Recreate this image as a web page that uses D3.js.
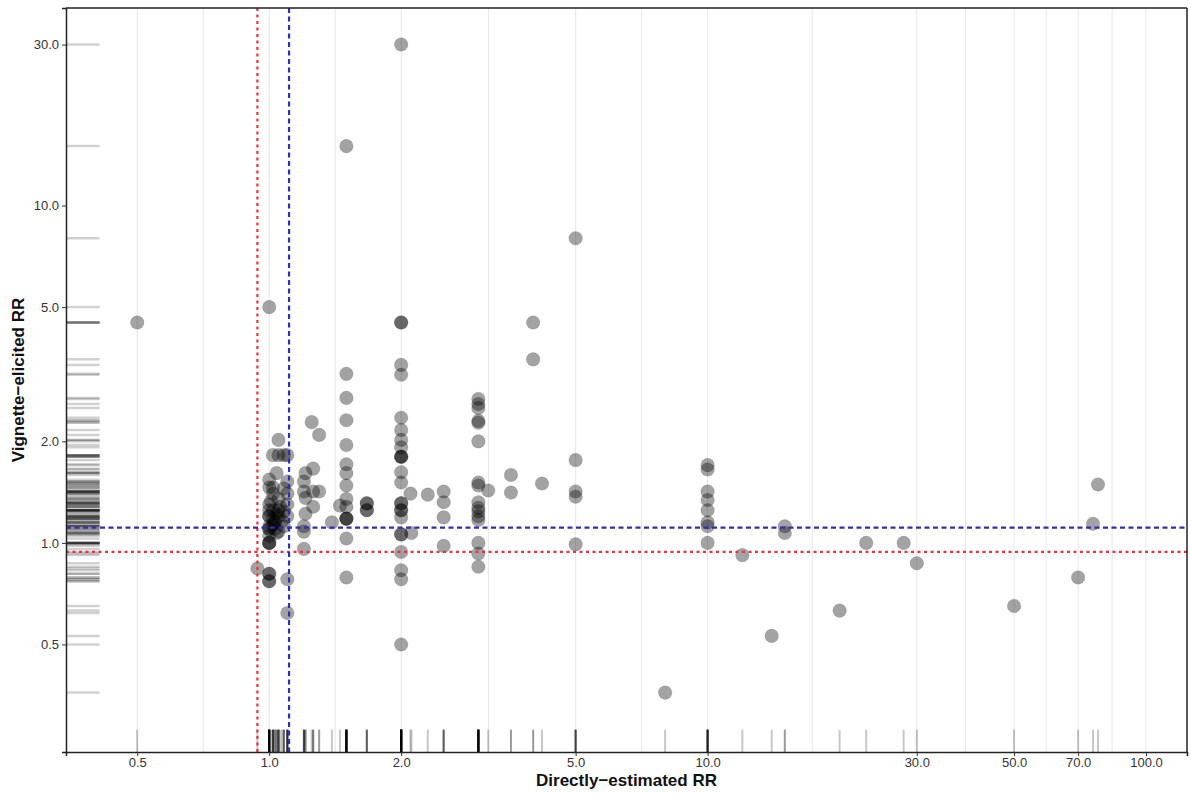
<!DOCTYPE html>
<html>
<head>
<meta charset="utf-8">
<script src="https://cdn.jsdelivr.net/npm/d3@7"></script>
<style>
  body { margin: 0; background: #fff; }
  text { font-family: "Liberation Sans", Arial, sans-serif; }
  .tick text { fill: #333; font-size: 13px; }
  .axis-title { font-size: 17px; font-weight: bold; fill: #111; }
</style>
</head>
<body>
<svg width="1191" height="793"></svg>
<script>
// directly-estimated RR (x) and vignette-elicited RR (y), one entry per respondent
var directRR = [
  0.5, 1.0, 2.0, 1.5, 5.0, 4.0, 4.0, 2.0, 2.0, 8.0,
  1.05, 1.02, 1.05, 1.08, 1.1, 1.25, 1.3,
  1.04, 1.0, 1.0, 1.02, 1.1, 1.21, 1.26, 1.2,
  1.2, 1.26, 1.3, 1.21, 1.26, 1.21, 1.2, 1.2,
  1.0, 1.02, 1.0, 1.0, 1.03, 1.03, 1.0, 1.0, 1.05, 1.08, 1.1, 1.1, 1.05, 1.02, 1.08, 1.1, 1.05, 1.0,
  1.0, 1.02, 1.04, 1.06, 1.0, 1.03, 1.07, 1.01, 1.04, 1.08, 1.02, 1.05,
  1.0, 1.0, 1.0, 1.2, 0.94, 1.0, 1.0, 1.0, 1.0, 1.1, 1.1,
  1.5, 1.5, 1.5, 1.5, 1.5, 1.5, 1.5, 1.5, 1.5, 1.5, 1.5, 1.5, 1.5, 1.5, 1.45, 1.39, 1.67, 1.67, 1.67, 1.67,
  2, 2, 2, 2, 2, 2, 2, 2, 2, 2, 2, 2, 2, 2, 2, 2, 2, 2, 2, 2, 2, 2, 2.1, 2.11,
  2.3, 2.5, 2.5, 2.5, 2.5,
  3, 3, 3, 3, 3, 3, 3, 3, 3, 3, 3, 3, 3, 3, 3, 3,
  3.16, 3.56, 3.56, 4.19,
  5, 5, 5, 5,
  10, 10, 10, 10, 10, 10, 10, 10,
  12, 15, 15, 14, 20, 23, 28, 30, 50, 70, 75.7, 77.7
];
var vignetteRR = [
  4.5, 5.0, 30, 15, 8.0, 4.5, 3.5, 4.5, 4.5, 0.36,
  2.02, 1.82, 1.82, 1.82, 1.82, 2.28, 2.09,
  1.61, 1.54, 1.46, 1.46, 1.52, 1.61, 1.66, 1.52,
  1.42, 1.42, 1.42, 1.36, 1.28, 1.22, 1.12, 1.08,
  1.3, 1.25, 1.2, 1.2, 1.15, 1.15, 1.1, 1.1, 1.08, 1.12, 1.2, 1.3, 1.35, 1.4, 1.45, 1.4, 1.25, 1.05,
  1.12, 1.18, 1.22, 1.28, 1.25, 1.1, 1.16, 1.33, 1.07, 1.24, 1.13, 1.2,
  1.0, 1.0, 1.0, 0.96, 0.84, 0.81, 0.81, 0.77, 0.77, 0.78, 0.62,
  3.17, 2.69, 2.31, 1.95, 1.71, 1.61, 1.48, 1.35, 1.28, 1.18, 1.18, 1.18, 1.03, 0.79, 1.29, 1.15, 1.31, 1.31, 1.25, 1.25,
  3.37, 3.15, 2.35, 2.16, 2.02, 1.92, 1.8, 1.8, 1.8, 1.62, 1.51, 1.31, 1.31, 1.25, 1.25, 1.19, 1.06, 1.06, 0.94, 0.83, 0.78, 0.5, 1.4, 1.07,
  1.39, 1.42, 1.32, 1.19, 0.98,
  2.67, 2.58, 2.51, 2.3, 2.27, 2.0, 1.51, 1.48, 1.32, 1.27, 1.24, 1.2, 1.17, 1.0, 0.93, 0.85,
  1.43, 1.59, 1.41, 1.5,
  1.76, 1.42, 1.37, 0.99,
  1.7, 1.65, 1.42, 1.34, 1.25, 1.15, 1.12, 1.0,
  0.92, 1.12, 1.07, 0.53, 0.63, 1.0, 1.0, 0.87, 0.65, 0.79, 1.14, 1.49
];

var xTicks = [0.5, 1, 2, 5, 10, 30, 50, 70, 100];
var yTicks = [0.5, 1, 2, 5, 10, 30];

// reference lines
var redRef = 0.94;
var blueRef = 1.11;

var svg = d3.select('svg');
var svgWidth = +svg.attr('width');
var svgHeight = +svg.attr('height');
var padding = {t: 8, r: 4, b: 41, l: 66};
var chartWidth = svgWidth - padding.l - padding.r;
var chartHeight = svgHeight - padding.t - padding.b;

var chartG = svg.append('g')
    .attr('transform', 'translate(' + [padding.l, padding.t] + ')');

var xScale = d3.scaleLog().domain([0.344, 124]).range([0, chartWidth]);
var yScale = d3.scaleLog().domain([0.24, 38.5]).range([chartHeight, 0]);

var points = directRR.map(function(d, i) {
    return {x: d, y: vignetteRR[i]};
});

// gridlines: major at ticks, minor at geometric midpoints
var minor = [];
for (var i = 0; i < xTicks.length - 1; i++) {
    minor.push(Math.sqrt(xTicks[i] * xTicks[i + 1]));
}
chartG.append('g').selectAll('line')
    .data(xTicks.concat(minor))
    .enter().append('line')
    .attr('x1', function(d) { return xScale(d); })
    .attr('x2', function(d) { return xScale(d); })
    .attr('y1', 0)
    .attr('y2', chartHeight)
    .style('stroke', '#e6e6e6')
    .style('stroke-width', 1);

// rugs
var rugX = chartHeight * 0.03;
var rugY = chartWidth * 0.03;
chartG.append('g').selectAll('line')
    .data(points)
    .enter().append('line')
    .attr('x1', function(d) { return xScale(d.x); })
    .attr('x2', function(d) { return xScale(d.x); })
    .attr('y1', chartHeight)
    .attr('y2', chartHeight - rugX)
    .style('stroke', '#000')
    .style('stroke-opacity', 0.22)
    .style('stroke-width', 2);

chartG.append('g').selectAll('line')
    .data(points)
    .enter().append('line')
    .attr('y1', function(d) { return yScale(d.y); })
    .attr('y2', function(d) { return yScale(d.y); })
    .attr('x1', 0)
    .attr('x2', rugY)
    .style('stroke', '#000')
    .style('stroke-opacity', 0.18)
    .style('stroke-width', 2.5);

// points
chartG.append('g').selectAll('circle')
    .data(points)
    .enter().append('circle')
    .attr('cx', function(d) { return xScale(d.x); })
    .attr('cy', function(d) { return yScale(d.y); })
    .attr('r', 6.8)
    .style('fill', '#000')
    .style('fill-opacity', 0.36)
    .style('stroke', '#000')
    .style('stroke-opacity', 0.1);

// reference lines
function refLines(v, color, dash) {
    chartG.append('line')
        .attr('x1', xScale(v)).attr('x2', xScale(v))
        .attr('y1', 0).attr('y2', chartHeight)
        .style('stroke', color).style('stroke-width', 2.2)
        .style('stroke-dasharray', dash);
    chartG.append('line')
        .attr('x1', 0).attr('x2', chartWidth)
        .attr('y1', yScale(v)).attr('y2', yScale(v))
        .style('stroke', color).style('stroke-width', 2.2)
        .style('stroke-dasharray', dash);
}
refLines(redRef, '#e8323f', '3,3.5');
refLines(blueRef, '#2f2fb0', '5,3.5');

// axes
var xAxis = chartG.append('g')
    .attr('transform', 'translate(' + [0, chartHeight] + ')')
    .call(d3.axisBottom(xScale).tickValues(xTicks).tickFormat(d3.format('.1f')).tickSize(4).tickPadding(2));
var yAxis = chartG.append('g')
    .call(d3.axisLeft(yScale).tickValues(yTicks).tickFormat(d3.format('.1f')).tickSize(4).tickPadding(3));
[xAxis, yAxis].forEach(function(a) {
    a.select('.domain').style('stroke', '#222').style('stroke-width', 1.5);
    a.selectAll('.tick line').style('stroke', '#333');
});

// top and right frame
chartG.append('line')
    .attr('x1', 0).attr('x2', chartWidth).attr('y1', 0).attr('y2', 0)
    .style('stroke', '#222').style('stroke-width', 1.5);
chartG.append('line')
    .attr('x1', chartWidth).attr('x2', chartWidth).attr('y1', 0).attr('y2', chartHeight)
    .style('stroke', '#222').style('stroke-width', 1.5);

// titles
svg.append('text')
    .attr('class', 'axis-title')
    .attr('x', padding.l + chartWidth / 2)
    .attr('y', 786)
    .attr('text-anchor', 'middle')
    .text('Directly\u2212estimated RR');
svg.append('text')
    .attr('class', 'axis-title')
    .attr('transform', 'translate(' + [24, padding.t + chartHeight / 2] + ') rotate(-90)')
    .attr('text-anchor', 'middle')
    .text('Vignette\u2212elicited RR');
</script>
</body>
</html>
